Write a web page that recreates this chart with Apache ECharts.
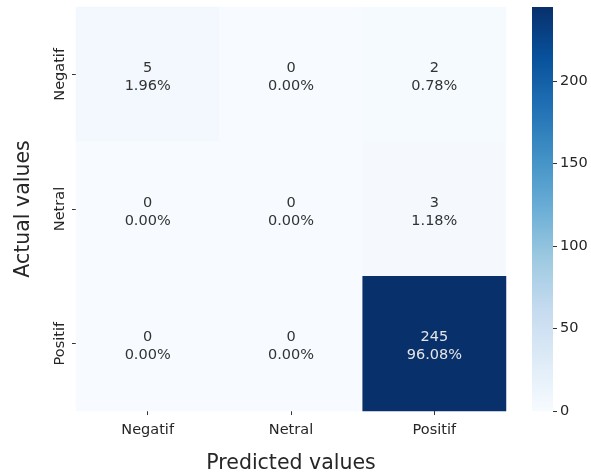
<!DOCTYPE html>
<html>
<head>
<meta charset="utf-8">
<script src="https://cdn.jsdelivr.net/npm/echarts@6/dist/echarts.min.js"></script>
<style>html,body{margin:0;padding:0;background:#fff;}#c{width:591px;height:475px;}</style>
</head>
<body>
<div id="c"></div>
<script>
var predictedLabels = ['Negatif', 'Netral', 'Positif'];
var actualLabels = ['Negatif', 'Netral', 'Positif'];
// counts[row=actual][col=predicted]
var countsNegatif = [5, 0, 2];
var countsNetral = [0, 0, 3];
var countsPositif = [0, 0, 245];
var colorbarTicks = [0, 50, 100, 150, 200];
var colorMax = 245;
var blues = ['#f7fbff', '#deebf7', '#c6dbef', '#9ecae1', '#6baed6', '#4292c6', '#2171b5', '#08519c', '#08306b'];

var rows = [countsNegatif, countsNetral, countsPositif];
var total = 0;
rows.forEach(function (r) { r.forEach(function (v) { total += v; }); });
var heatData = [];
rows.forEach(function (r, ri) {
  r.forEach(function (v, ci) {
    var item = { value: [ci, ri, v] };
    if (v / colorMax > 0.6) { item.label = { color: '#e6e6e6' }; }
    heatData.push(item);
  });
});

var stops = blues.map(function (c, i) { return { offset: 1 - i / (blues.length - 1), color: c }; });

var font = 'DejaVu Sans';
var chart = echarts.init(document.getElementById('c'), null, { renderer: 'canvas' });
chart.setOption({
  animation: false,
  backgroundColor: '#ffffff',
  textStyle: { fontFamily: font },
  grid: [
    { left: 76, top: 7, width: 430, height: 404, outerBoundsMode: 'none', containLabel: false },
    { left: 532, top: 7, width: 21, height: 404, outerBoundsMode: 'none', containLabel: false }
  ],
  xAxis: [
    {
      gridIndex: 0, type: 'category', data: predictedLabels, position: 'bottom',
      name: 'Predicted values', nameLocation: 'middle', nameGap: 42,
      nameTextStyle: { fontSize: 20.5, color: '#262626', fontFamily: font },
      axisLine: { show: false },
      axisTick: { show: true, alignWithLabel: true, length: 4, lineStyle: { color: '#333' } },
      axisLabel: { fontSize: 14.5, color: '#262626', margin: 12, fontFamily: font },
      splitLine: { show: false }
    },
    {
      gridIndex: 1, type: 'category', data: ['cb'], show: false
    }
  ],
  yAxis: [
    {
      gridIndex: 0, type: 'category', data: actualLabels, inverse: true,
      name: 'Actual values', nameLocation: 'middle', nameGap: 42, nameRotate: 90,
      nameTextStyle: { fontSize: 20.5, color: '#262626', fontFamily: font },
      axisLine: { show: false },
      axisTick: { show: true, alignWithLabel: true, length: 4, lineStyle: { color: '#333' } },
      axisLabel: { fontSize: 14.5, color: '#262626', rotate: 90, margin: 8, fontFamily: font },
      splitLine: { show: false }
    },
    {
      gridIndex: 1, type: 'value', min: 0, max: colorMax, position: 'right',
      axisLine: { show: false },
      axisTick: { show: true, length: 4, lineStyle: { color: '#333' }, customValues: colorbarTicks },
      axisLabel: {
        fontSize: 14.5, color: '#262626', margin: 7, fontFamily: font,
        customValues: colorbarTicks
      },
      splitLine: { show: false }
    }
  ],
  visualMap: {
    show: false, min: 0, max: colorMax, seriesIndex: 0, dimension: 2,
    inRange: { color: blues }
  },
  series: [
    {
      type: 'heatmap', xAxisIndex: 0, yAxisIndex: 0, data: heatData,
      label: {
        show: true, fontSize: 14.5, lineHeight: 18, fontFamily: font, offset: [0, 3],
        formatter: function (p) {
          var v = p.value[2];
          return v + '\n' + (v / total * 100).toFixed(2) + '%';
        },
        color: '#333333'
      },
      itemStyle: { borderWidth: 0 },
      emphasis: { disabled: true }
    },
    {
      type: 'bar', xAxisIndex: 1, yAxisIndex: 1, data: [colorMax], barWidth: '100%',
      itemStyle: { color: new echarts.graphic.LinearGradient(0, 0, 0, 1, stops) },
      silent: true
    }
  ]
});
</script>
</body>
</html>
